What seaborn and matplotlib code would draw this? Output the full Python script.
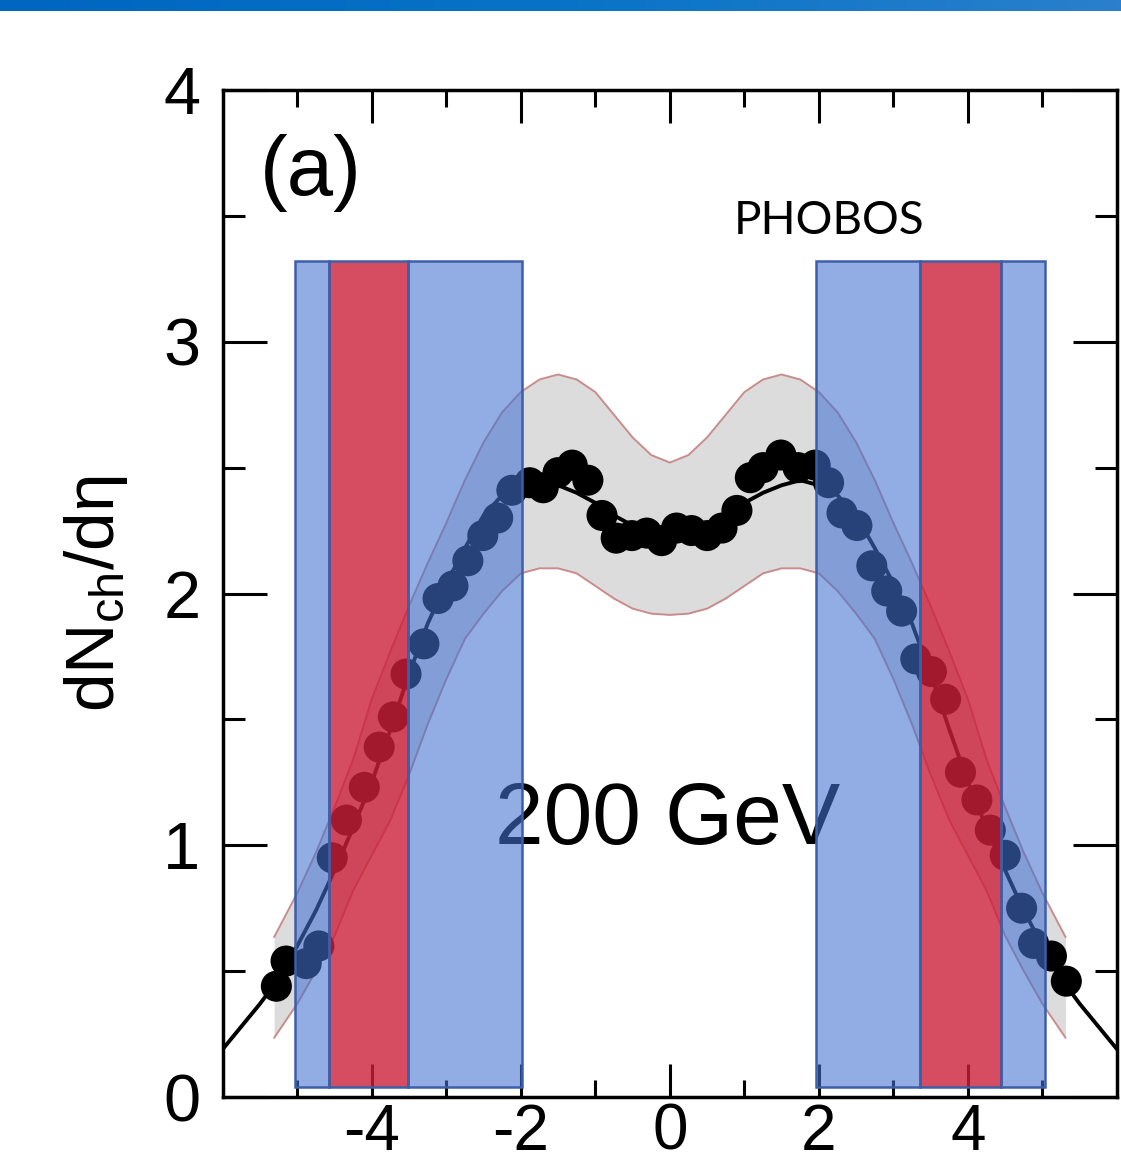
import numpy as np
import pandas as pd
import matplotlib
matplotlib.use("Agg")
import matplotlib.pyplot as plt
from matplotlib.colors import LinearSegmentedColormap
import seaborn as sns

# ---------------- data ----------------
pts_eta = [-5.28, -5.15, -4.88, -4.71, -4.53, -4.34, -4.10, -3.90, -3.71, -3.54,
           -3.30, -3.11, -2.91, -2.71, -2.51, -2.31, -2.12, -1.88, -1.70, -1.50,
           -1.31, -1.10, -0.91, -0.72, -0.51, -0.31, -0.11, 0.09, 0.29, 0.50,
           0.70, 0.90, 1.08, 1.25, 1.49, 1.72, 1.95, 2.13, 2.31, 2.51,
           2.71, 2.91, 3.11, 3.30, 3.51, 3.70, 3.90, 4.12, 4.30, 4.50,
           4.72, 4.88, 5.12, 5.32]
pts_dn = [0.44, 0.54, 0.53, 0.60, 0.95, 1.10, 1.23, 1.39, 1.51, 1.68,
          1.80, 1.98, 2.03, 2.13, 2.23, 2.30, 2.41, 2.44, 2.42, 2.48,
          2.51, 2.45, 2.31, 2.22, 2.23, 2.24, 2.21, 2.26, 2.25, 2.23,
          2.26, 2.33, 2.46, 2.50, 2.55, 2.50, 2.51, 2.44, 2.32, 2.27,
          2.11, 2.01, 1.93, 1.74, 1.69, 1.58, 1.29, 1.18, 1.06, 0.96,
          0.75, 0.61, 0.56, 0.46]

curve_eta = [-6.0, -5.75, -5.5, -5.25, -5.0, -4.75, -4.5, -4.25, -4.0, -3.75,
             -3.5, -3.25, -3.0, -2.75, -2.5, -2.25, -2.0, -1.75, -1.5, -1.25,
             -1.0, -0.75, -0.5, -0.25, 0.0, 0.25, 0.5, 0.75, 1.0, 1.25,
             1.5, 1.75, 2.0, 2.25, 2.5, 2.75, 3.0, 3.25, 3.5, 3.75,
             4.0, 4.25, 4.5, 4.75, 5.0, 5.25, 5.5, 5.75, 6.0]
curve_dn = [0.19, 0.28, 0.37, 0.47, 0.60, 0.74, 0.90, 1.07, 1.25, 1.46,
            1.68, 1.88, 2.04, 2.18, 2.31, 2.39, 2.43, 2.45, 2.43, 2.40,
            2.36, 2.31, 2.27, 2.25, 2.24, 2.25, 2.27, 2.31, 2.36, 2.40,
            2.43, 2.45, 2.43, 2.39, 2.31, 2.18, 2.04, 1.88, 1.68, 1.46,
            1.25, 1.07, 0.90, 0.74, 0.60, 0.47, 0.37, 0.28, 0.19]

band_eta = [-5.31, -5.0, -4.75, -4.5, -4.25, -4.0, -3.75, -3.5, -3.25, -3.0,
            -2.75, -2.5, -2.25, -2.0, -1.75, -1.5, -1.25, -1.0, -0.75, -0.5,
            -0.25, 0.0, 0.25, 0.5, 0.75, 1.0, 1.25, 1.5, 1.75, 2.0,
            2.25, 2.5, 2.75, 3.0, 3.25, 3.5, 3.75, 4.0, 4.25, 4.5,
            4.75, 5.0, 5.31]
band_hi = [0.635, 0.81, 0.97, 1.15, 1.34, 1.58, 1.77, 1.95, 2.12, 2.28,
           2.45, 2.60, 2.72, 2.80, 2.85, 2.87, 2.85, 2.80, 2.71, 2.62,
           2.55, 2.52, 2.55, 2.62, 2.71, 2.80, 2.85, 2.87, 2.85, 2.80,
           2.72, 2.60, 2.45, 2.28, 2.12, 1.95, 1.77, 1.58, 1.34, 1.15,
           0.97, 0.81, 0.635]
band_lo = [0.235, 0.37, 0.50, 0.64, 0.82, 0.96, 1.10, 1.28, 1.48, 1.66,
           1.82, 1.92, 2.01, 2.08, 2.10, 2.10, 2.08, 2.03, 1.98, 1.94,
           1.92, 1.915, 1.92, 1.94, 1.98, 2.03, 2.08, 2.10, 2.10, 2.08,
           2.01, 1.92, 1.82, 1.66, 1.48, 1.28, 1.10, 0.96, 0.82, 0.64,
           0.50, 0.37, 0.235]

# acceptance windows (eta ranges)
blue_left = [-5.03, -3.51, 1.96, 4.44]
blue_right = [-4.57, -1.98, 3.36, 5.03]
red_left = [-4.57, 3.36]
red_right = [-3.51, 4.44]
win_bottom = 0.04
win_top = 3.32

xticks_major = [-4, -2, 0, 2, 4]
xticks_minor = [-5, -3, -1, 1, 3, 5]
yticks_major = [0, 1, 2, 3, 4]
yticks_minor = [0.5, 1.5, 2.5, 3.5]

# ---------------- style ----------------
sns.set_style("ticks")
plt.rcParams["font.family"] = ["Liberation Sans", "DejaVu Sans"]
plt.rcParams["mathtext.fontset"] = "custom"
plt.rcParams["mathtext.rm"] = "Liberation Sans"
plt.rcParams["mathtext.it"] = "Liberation Sans:italic"
plt.rcParams["axes.unicode_minus"] = False
for k in ["text.color", "axes.labelcolor", "xtick.color", "ytick.color",
          "xtick.labelcolor", "ytick.labelcolor"]:
    plt.rcParams[k] = "black"

W, H = 1121, 1168
fig = plt.figure(figsize=(W / 100, H / 100), dpi=100)
fig.patch.set_facecolor("white")

# header gradient bar
hax = fig.add_axes([0, 1 - 11 / H, 1, 11 / H])
cmap = LinearSegmentedColormap.from_list("hdr", ["#0066c0", "#0873c6", "#2a80cc"])
hax.imshow(np.linspace(0, 1, 256)[None, :], aspect="auto", cmap=cmap,
           extent=[0, 1, 0, 1])
hax.axis("off")

ax = fig.add_axes([222.7 / W, 1 - 1097 / H, (1117 - 222.7) / W, (1097 - 90) / H])
ax.set_facecolor("white")

# uncertainty band
ax.fill_between(band_eta, band_lo, band_hi, color="#dcdcdc", lw=0, zorder=1)
ax.plot(band_eta, band_hi, color="#c98c8c", lw=1.4, zorder=1.5)
ax.plot(band_eta, band_lo, color="#c98c8c", lw=1.4, zorder=1.5)

# model curve
df_curve = pd.DataFrame({"eta": curve_eta, "dn": curve_dn})
sns.lineplot(data=df_curve, x="eta", y="dn", color="black", lw=2.8,
             ax=ax, zorder=2, sort=False)

# data points
df_pts = pd.DataFrame({"eta": pts_eta, "dn": pts_dn})
sns.scatterplot(data=df_pts, x="eta", y="dn", color="black", s=500,
                edgecolor="none", ax=ax, zorder=3)

# 200 GeV text (under the windows)
ax.text(-0.03, 1.096, "200 GeV", fontsize=63, ha="center", va="center",
        color="black", zorder=3)

# acceptance windows drawn on top, semi-transparent
blue_face = (67 / 255, 114 / 255, 210 / 255, 0.58)
red_face = (204 / 255, 32 / 255, 57 / 255, 0.80)
edge = "#3d5ea8"
for l, r in zip(blue_left, blue_right):
    ax.bar(l, win_top - win_bottom, width=r - l, bottom=win_bottom, align="edge",
           color=blue_face, edgecolor=edge, linewidth=1.8, zorder=4)
for l, r in zip(red_left, red_right):
    ax.bar(l, win_top - win_bottom, width=r - l, bottom=win_bottom, align="edge",
           color=red_face, edgecolor=edge, linewidth=1.8, zorder=4.1)

# annotations
ax.text(-5.50, 3.67, "(a)", fontsize=60, ha="left", va="center", zorder=5)
ax.text(0.86, 3.48, "PHOBOS", fontsize=33, ha="left", va="center",
        family=["Lato", "DejaVu Sans"], zorder=5)

# axes
ax.set_xlim(-6, 6)
ax.set_ylim(0, 4)
ax.set_xticks(xticks_major)
ax.set_xticks(xticks_minor, minor=True)
ax.set_yticks(yticks_major)
ax.set_yticks(yticks_minor, minor=True)
ax.set_xticklabels([str(v) for v in xticks_major])
ax.set_yticklabels([str(v) for v in yticks_major])
ax.set_xlabel("")
ax.set_ylabel(r"dN$_{\mathrm{ch}}$/dη", fontsize=50)
ax.yaxis.set_label_coords(-0.104, 0.5)

for s in ax.spines.values():
    s.set_visible(True)
    s.set_linewidth(2.5)
    s.set_color("black")
    s.set_zorder(6)

ax.tick_params(axis="x", which="major", direction="in", length=24, width=2.2,
               top=True, bottom=True, labelsize=46, pad=4)
ax.tick_params(axis="x", which="minor", direction="in", length=12, width=2.2,
               top=True, bottom=True)
ax.tick_params(axis="y", which="major", direction="in", length=32, width=2.2,
               left=True, right=True, labelsize=48, pad=16)
ax.tick_params(axis="y", which="minor", direction="in", length=16, width=2.2,
               left=True, right=True)

fig.savefig("out.png", dpi=100, facecolor="white")
